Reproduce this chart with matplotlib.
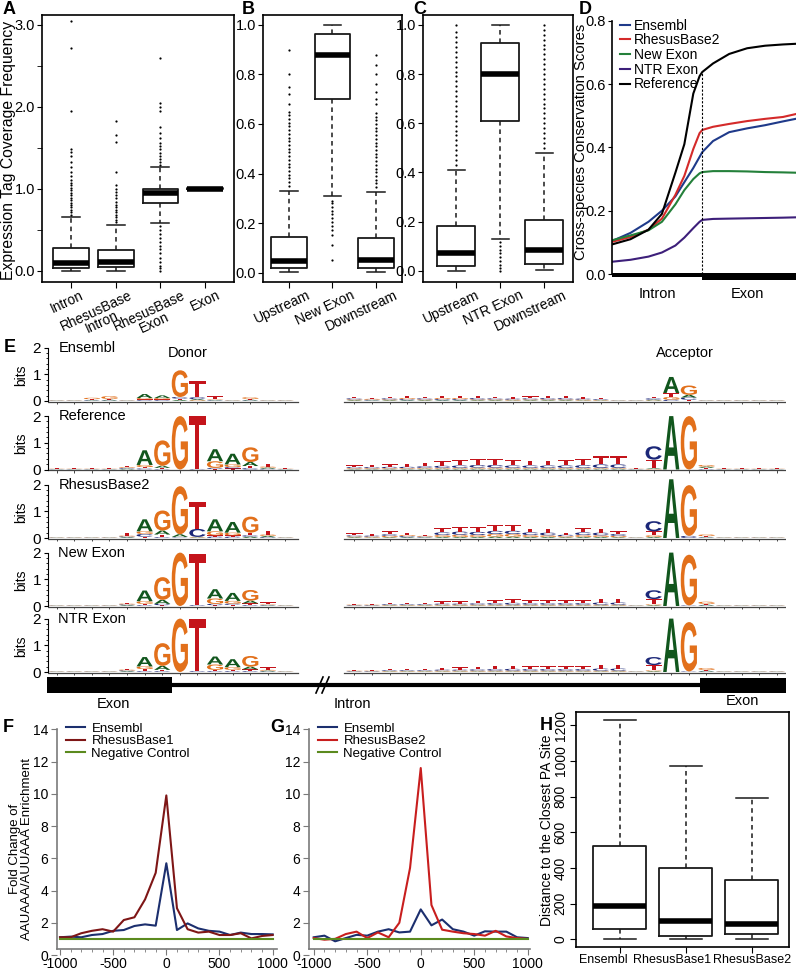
import numpy as np
import matplotlib
matplotlib.use("Agg")
import matplotlib.pyplot as plt
from matplotlib.textpath import TextPath
from matplotlib.patches import PathPatch, Rectangle, Polygon
from matplotlib.font_manager import FontProperties
from matplotlib.transforms import Affine2D, ScaledTranslation

plt.rcParams['font.family'] = ['Liberation Sans', 'DejaVu Sans']
plt.rcParams['axes.linewidth'] = 1.2

W, H = 800, 971

# ---------------- data ----------------
# panel A: (whislo, q1, med, q3, whishi)
a_names = ['Intron', 'RhesusBase\nIntron', 'RhesusBase\nExon', 'Exon']
a_q = [(0.0, 0.03, 0.09, 0.27, 0.65), (0.0, 0.04, 0.11, 0.25, 0.56),
       (0.58, 0.83, 0.95, 0.99, 1.26), (1.0, 0.99, 1.0, 1.01, 1.0)]
a_fl = [[0.68, 0.71, 0.74, 0.77, 0.8, 0.83, 0.86, 0.89, 0.92, 0.95, 0.98, 1.01, 1.04, 1.07, 1.1,
         1.15, 1.2, 1.26, 1.33, 1.4, 1.45, 1.48, 1.95, 2.72, 3.05],
        [0.59, 0.62, 0.65, 0.68, 0.71, 0.74, 0.77, 0.8, 0.84, 0.88, 0.92, 0.96, 1.0, 1.05, 1.2, 1.57, 1.65, 1.83],
        [1.29, 1.32, 1.36, 1.4, 1.44, 1.48, 1.52, 1.56, 1.62, 1.68, 1.75, 1.95, 2.0, 2.05, 2.6,
         0.0, 0.03, 0.06, 0.1, 0.15, 0.22, 0.26, 0.3, 0.35, 0.4, 0.45, 0.5, 0.54],
        []]

b_names = ['Upstream', 'New Exon', 'Downstream']
b_q = [(0.004, 0.018, 0.048, 0.143, 0.33), (0.31, 0.70, 0.879, 0.962, 1.0), (0.004, 0.018, 0.05, 0.14, 0.325)]
b_fl = [[0.35, 0.365, 0.38, 0.395, 0.41, 0.425, 0.44, 0.455, 0.47, 0.485, 0.5, 0.515, 0.53, 0.545, 0.56,
         0.575, 0.59, 0.605, 0.62, 0.635, 0.65, 0.68, 0.72, 0.75, 0.8, 0.9],
        [0.29, 0.28, 0.265, 0.25, 0.235, 0.22, 0.205, 0.19, 0.17, 0.15, 0.11, 0.05],
        [0.345, 0.36, 0.375, 0.39, 0.405, 0.42, 0.435, 0.45, 0.465, 0.48, 0.495, 0.51, 0.525, 0.54, 0.555,
         0.57, 0.585, 0.6, 0.615, 0.63, 0.645, 0.68, 0.7, 0.73, 0.76, 0.8, 0.84, 0.88]]

c_names = ['Upstream', 'NTR Exon', 'Downstream']
c_q = [(0.0, 0.02, 0.07, 0.18, 0.41), (0.13, 0.61, 0.80, 0.925, 1.0), (0.003, 0.026, 0.084, 0.206, 0.48)]
c_fl = [[0.43, 0.45, 0.47, 0.49, 0.51, 0.53, 0.55, 0.57, 0.59, 0.61, 0.63, 0.65, 0.67, 0.69, 0.71, 0.73,
         0.75, 0.77, 0.79, 0.81, 0.83, 0.85, 0.87, 0.89, 0.91, 0.93, 0.95, 0.97, 1.0],
        [0.115, 0.1, 0.085, 0.07, 0.055, 0.04, 0.025, 0.01, 0.0],
        [0.5, 0.52, 0.54, 0.56, 0.58, 0.6, 0.62, 0.64, 0.66, 0.68, 0.7, 0.72, 0.74, 0.76, 0.78, 0.8,
         0.82, 0.84, 0.86, 0.88, 0.9, 0.92, 0.94, 0.96, 0.98, 1.0]]

# panel D: conservation profiles (intron < 0 < exon)
d_x = [-100, -80, -60, -45, -30, -20, -10, -3, 0, 12, 30, 50, 70, 90, 104]
d_ens = [0.105, 0.13, 0.165, 0.2, 0.245, 0.29, 0.335, 0.37, 0.385, 0.42, 0.448, 0.46, 0.47, 0.482, 0.49]
d_rb2 = [0.102, 0.117, 0.14, 0.175, 0.25, 0.31, 0.395, 0.445, 0.455, 0.465, 0.474, 0.483, 0.49, 0.496, 0.505]
d_new = [0.107, 0.122, 0.138, 0.165, 0.22, 0.265, 0.3, 0.318, 0.322, 0.325, 0.325, 0.324, 0.322, 0.321, 0.32]
d_ntr = [0.039, 0.045, 0.055, 0.068, 0.09, 0.115, 0.145, 0.165, 0.171, 0.174, 0.175, 0.176, 0.177, 0.178, 0.179]
d_ref = [0.094, 0.11, 0.14, 0.19, 0.32, 0.41, 0.57, 0.625, 0.638, 0.665, 0.695, 0.713, 0.721, 0.725, 0.727]
d_names = ['Ensembl', 'RhesusBase2', 'New Exon', 'NTR Exon', 'Reference']
d_colors = ['#1f3a8a', '#d42a2a', '#24803a', '#3d1f7a', '#000000']

# panel E: sequence logos, per position (A, C, G, T) in bits
t0 = (0.01, 0.01, 0.01, 0.01)
e_rows = ['Ensembl', 'Reference', 'RhesusBase2', 'New Exon', 'NTR Exon']
e_left = {
    'Ensembl': [t0, t0, (0.02, 0.02, 0.05, 0.03), (0.03, 0.02, 0.1, 0.03), t0, (0.15, 0.03, 0.05, 0.03),
                (0.1, 0.03, 0.05, 0.03), (0.04, 0.06, 1.0, 0.05), (0.04, 0.07, 0.03, 0.6),
                (0.02, 0.02, 0.02, 0.12), t0, (0.03, 0.02, 0.06, 0.03), t0, t0],
    'Reference': [t0, t0, t0, t0, (0.03, 0.03, 0.03, 0.03), (0.55, 0.04, 0.08, 0.05), (0.08, 0.02, 0.95, 0.04),
                  (0.0, 0.0, 2.0, 0.0), (0.0, 0.02, 0.0, 1.98), (0.45, 0.04, 0.25, 0.02),
                  (0.4, 0.05, 0.1, 0.04), (0.15, 0.05, 0.55, 0.08), (0.04, 0.03, 0.04, 0.1), t0],
    'RhesusBase2': [t0, t0, t0, t0, (0.03, 0.03, 0.03, 0.1), (0.45, 0.1, 0.1, 0.05), (0.15, 0.03, 0.75, 0.1),
                    (0.1, 0.02, 1.8, 0.02), (0.02, 0.3, 0.02, 1.0), (0.45, 0.05, 0.15, 0.05),
                    (0.4, 0.05, 0.1, 0.05), (0.05, 0.05, 0.6, 0.1), (0.05, 0.03, 0.05, 0.15), t0],
    'New Exon': [t0, t0, t0, t0, (0.03, 0.03, 0.03, 0.03), (0.4, 0.03, 0.1, 0.05), (0.15, 0.05, 0.85, 0.03),
                 (0.0, 0.0, 2.0, 0.0), (0.0, 0.03, 0.0, 1.9), (0.35, 0.05, 0.2, 0.03),
                 (0.3, 0.05, 0.1, 0.04), (0.1, 0.03, 0.4, 0.07), (0.02, 0.02, 0.02, 0.08), t0],
    'NTR Exon': [t0, t0, t0, t0, (0.03, 0.03, 0.03, 0.03), (0.35, 0.03, 0.1, 0.08), (0.15, 0.03, 0.85, 0.05),
                 (0.0, 0.0, 2.0, 0.0), (0.0, 0.03, 0.0, 1.95), (0.3, 0.03, 0.2, 0.05),
                 (0.3, 0.03, 0.1, 0.05), (0.1, 0.03, 0.4, 0.07), (0.03, 0.02, 0.03, 0.1), t0],
}
e_right = {
    'Ensembl': [(0.03, 0.04, 0.03, 0.05), (0.02, 0.03, 0.03, 0.04), (0.03, 0.04, 0.03, 0.06), (0.03, 0.04, 0.04, 0.07),
                (0.03, 0.04, 0.03, 0.05), (0.03, 0.04, 0.04, 0.08), (0.03, 0.04, 0.04, 0.07), (0.03, 0.05, 0.03, 0.08),
                (0.03, 0.04, 0.03, 0.05), (0.02, 0.04, 0.03, 0.05), (0.03, 0.04, 0.03, 0.07), (0.03, 0.05, 0.03, 0.08),
                (0.03, 0.05, 0.03, 0.08), (0.02, 0.04, 0.03, 0.05), (0.02, 0.03, 0.02, 0.04), t0, t0,
                (0.03, 0.05, 0.02, 0.06), (0.6, 0.05, 0.1, 0.15), (0.1, 0.08, 0.35, 0.05), t0, t0, t0, t0, t0],
    'Reference': [(0.02, 0.04, 0.03, 0.06), (0.02, 0.04, 0.03, 0.08), (0.02, 0.05, 0.03, 0.1), (0.02, 0.05, 0.03, 0.12),
                  (0.03, 0.06, 0.03, 0.13), (0.03, 0.08, 0.03, 0.16), (0.03, 0.09, 0.03, 0.2), (0.03, 0.1, 0.04, 0.23),
                  (0.03, 0.1, 0.04, 0.23), (0.03, 0.09, 0.03, 0.2), (0.03, 0.09, 0.03, 0.18), (0.03, 0.09, 0.03, 0.18),
                  (0.03, 0.09, 0.03, 0.2), (0.03, 0.1, 0.03, 0.24), (0.03, 0.13, 0.03, 0.3), (0.03, 0.13, 0.03, 0.3),
                  t0, (0.03, 0.5, 0.02, 0.32), (2.0, 0.0, 0.0, 0.0), (0.0, 0.0, 2.0, 0.0),
                  (0.05, 0.02, 0.06, 0.04), t0, t0, t0, t0],
    'RhesusBase2': [(0.03, 0.04, 0.03, 0.07), (0.02, 0.04, 0.03, 0.06), (0.03, 0.06, 0.05, 0.11), (0.03, 0.04, 0.04, 0.08),
                    (0.02, 0.03, 0.03, 0.05), (0.04, 0.1, 0.07, 0.16), (0.04, 0.12, 0.08, 0.18), (0.04, 0.12, 0.07, 0.17),
                    (0.05, 0.12, 0.1, 0.2), (0.05, 0.12, 0.1, 0.2), (0.04, 0.1, 0.07, 0.14), (0.04, 0.1, 0.06, 0.15),
                    (0.03, 0.05, 0.04, 0.07), (0.04, 0.1, 0.07, 0.16), (0.04, 0.1, 0.06, 0.15), (0.03, 0.07, 0.05, 0.1),
                    t0, (0.04, 0.38, 0.06, 0.15), (2.2, 0.0, 0.0, 0.0), (0.0, 0.08, 1.9, 0.0),
                    (0.02, 0.02, 0.06, 0.03), t0, t0, t0, t0],
    'New Exon': [(0.01, 0.02, 0.02, 0.03), (0.01, 0.02, 0.02, 0.04), (0.02, 0.03, 0.02, 0.05), (0.02, 0.03, 0.02, 0.05),
                 (0.02, 0.03, 0.02, 0.06), (0.02, 0.04, 0.03, 0.08), (0.02, 0.04, 0.03, 0.09), (0.02, 0.05, 0.03, 0.1),
                 (0.02, 0.06, 0.03, 0.11), (0.02, 0.07, 0.03, 0.13), (0.02, 0.06, 0.03, 0.11), (0.02, 0.06, 0.03, 0.1),
                 (0.02, 0.06, 0.03, 0.11), (0.02, 0.06, 0.03, 0.1), (0.02, 0.08, 0.03, 0.14), (0.02, 0.08, 0.03, 0.15),
                 t0, (0.03, 0.33, 0.03, 0.2), (2.0, 0.0, 0.0, 0.0), (0.0, 0.02, 1.9, 0.0),
                 (0.03, 0.02, 0.08, 0.03), t0, t0, t0, t0],
    'NTR Exon': [(0.01, 0.02, 0.02, 0.03), (0.01, 0.02, 0.02, 0.03), (0.02, 0.03, 0.02, 0.04), (0.02, 0.03, 0.02, 0.05),
                 (0.02, 0.03, 0.02, 0.06), (0.02, 0.04, 0.03, 0.07), (0.02, 0.04, 0.03, 0.09), (0.02, 0.05, 0.03, 0.1),
                 (0.02, 0.06, 0.03, 0.12), (0.02, 0.07, 0.03, 0.12), (0.02, 0.06, 0.03, 0.1), (0.02, 0.06, 0.03, 0.1),
                 (0.02, 0.06, 0.03, 0.1), (0.02, 0.06, 0.03, 0.11), (0.02, 0.08, 0.03, 0.14), (0.02, 0.08, 0.03, 0.14),
                 t0, (0.03, 0.3, 0.03, 0.2), (2.0, 0.0, 0.0, 0.0), (0.0, 0.02, 1.85, 0.0),
                 (0.03, 0.02, 0.07, 0.03), t0, t0, t0, t0],
}

# panels F, G: AAUAAA/AUUAAA enrichment
fg_x = [-1000, -900, -800, -700, -600, -500, -400, -300, -200, -100, 0,
        100, 200, 300, 400, 500, 600, 700, 800, 900, 1000]
f_ens = [1.1, 1.14, 1.1, 1.24, 1.3, 1.5, 1.55, 1.8, 1.9, 1.82, 5.69, 1.55, 1.96, 1.65, 1.5, 1.45, 1.24, 1.39, 1.3, 1.3, 1.28]
f_rb1 = [1.1, 1.1, 1.35, 1.5, 1.6, 1.45, 2.17, 2.34, 3.45, 5.1, 9.9, 2.9, 1.6, 1.39, 1.45, 1.24, 1.24, 1.35, 1.03, 1.18, 1.24]
f_neg = [1.0, 1.0, 1.0, 1.0, 1.0, 1.0, 1.0, 1.0, 1.0, 1.0, 1.0, 1.0, 1.0, 1.0, 1.0, 1.0, 1.0, 1.0, 1.0, 1.0, 1.0]
g_ens = [1.1, 1.2, 0.85, 1.05, 1.25, 1.2, 1.45, 1.6, 1.4, 1.45, 2.83, 1.84, 2.2, 1.6, 1.45, 1.2, 1.47, 1.45, 1.45, 1.1, 1.05]
g_rb2 = [1.05, 0.95, 1.0, 1.3, 1.45, 1.05, 1.4, 1.1, 2.0, 5.4, 11.6, 3.1, 1.57, 1.45, 1.35, 1.3, 1.2, 1.5, 1.15, 1.05, 1.0]
g_neg = [1.0, 1.0, 1.0, 1.0, 1.0, 1.0, 1.0, 1.0, 1.0, 1.0, 1.0, 1.0, 1.0, 1.0, 1.0, 1.0, 1.0, 1.0, 1.0, 1.0, 1.0]

# panel H: distance to closest PA site
h_names = ['Ensembl', 'RhesusBase1', 'RhesusBase2']
h_q = [(0, 56, 187, 524, 1230), (0, 22, 104, 401, 972), (0, 28, 86, 332, 791)]

# ---------------- helpers ----------------
fig = plt.figure(figsize=(W / 100, H / 100), dpi=100)


def px_axes(l, t, r, b):
    return fig.add_axes([l / W, 1 - b / H, (r - l) / W, (b - t) / H])


def stat(q, fl=()):
    lo, q1, med, q3, hi = q
    return dict(whislo=lo, q1=q1, med=med, q3=q3, whishi=hi, fliers=list(fl))


def r_boxes(ax, stats, width=0.82, capw=0.4, ms=1.6):
    ax.bxp(stats, positions=range(1, len(stats) + 1), widths=width, capwidths=capw,
           manage_ticks=False,
           boxprops=dict(color='#1a1a1a', lw=1.3),
           medianprops=dict(color='black', lw=4, solid_capstyle='butt'),
           whiskerprops=dict(color='#1a1a1a', lw=1.1, linestyle=(0, (3, 2.5))),
           capprops=dict(color='#1a1a1a', lw=1.1),
           flierprops=dict(marker='o', ms=ms, mfc='black', mec='none', ls='none'))


def cat_labels(ax, names, dxs, fs=10):
    # rotated labels, right end shifted a little to the right of each tick
    ax.set_xticks(range(1, len(names) + 1))
    ax.set_xticklabels([])
    ax.tick_params(axis='x', direction='out', length=4)
    for i, (n, dx) in enumerate(zip(names, dxs), 1):
        tr = ax.get_xaxis_transform() + ScaledTranslation(dx / 100, -6 / 100, fig.dpi_scale_trans)
        ax.text(i, 0, n, transform=tr, rotation=25, ha='right', va='top', rotation_mode='anchor',
                ma='center', fontsize=fs, linespacing=0.9)


LOGO_FP = FontProperties(family='Liberation Sans', weight='bold')
LOGO_COL = {'A': '#11561d', 'C': '#1b2778', 'G': '#e2701b', 'T': '#c4141b'}
GLYPH = {ch: TextPath((0, 0), ch, size=1, prop=LOGO_FP) for ch in 'ACGT'}


def letter(ax, ch, x, y, w, h):
    tp = GLYPH[ch]
    bb = tp.get_extents()
    tr = Affine2D().translate(-bb.x0, -bb.y0).scale(w / bb.width, h / bb.height).translate(x - w / 2, y)
    ax.add_patch(PathPatch(tr.transform_path(tp), fc=LOGO_COL[ch], ec='none', lw=0, clip_on=False))


def stack(ax, x, heights, w=0.92):
    y = 0.0
    for h, ch in sorted(zip(heights, 'ACGT')):
        if h > 0:
            letter(ax, ch, x, y, w, h)
            y += h


# ---------------- A, B, C ----------------
axA = px_axes(41.7, 15, 234, 282)
r_boxes(axA, [stat(q, f) for q, f in zip(a_q, a_fl)], width=0.8)
axA.set_xlim(0.34, 4.65)
axA.set_ylim(-0.14, 3.12)
axA.set_yticks([0, 1, 2, 3])
axA.set_yticklabels(['0.0', '1.0', '2.0', '3.0'], fontsize=10.5)
axA.set_yticks([0.5, 1.5, 2.5], minor=True)
axA.tick_params(axis='y', which='both', direction='out', length=3.5, pad=1.5)
cat_labels(axA, a_names, [9, 13, 21, 12], fs=9.8)

axB = px_axes(262.7, 15, 402, 282)
r_boxes(axB, [stat(q, f) for q, f in zip(b_q, b_fl)])
axB.set_xlim(0.395, 3.6)
axB.set_ylim(-0.038, 1.04)
axB.set_yticks([0, 0.2, 0.4, 0.6, 0.8, 1.0])
axB.set_yticklabels(['0.0', '0.2', '0.4', '0.6', '0.8', '1.0'], fontsize=10.5)
axB.tick_params(axis='y', direction='out', length=3.5, pad=1.5)
cat_labels(axB, b_names, [18, 18, 18])

axC = px_axes(422.7, 15, 573, 282)
r_boxes(axC, [stat(q, f) for q, f in zip(c_q, c_fl)], width=0.86)
axC.set_xlim(0.236, 3.65)
axC.set_ylim(-0.046, 1.04)
axC.set_yticks([0, 0.2, 0.4, 0.6, 0.8, 1.0])
axC.set_yticklabels(['0.0', '0.2', '0.4', '0.6', '0.8', '1.0'], fontsize=10.5)
axC.tick_params(axis='y', direction='out', length=3.5, pad=1.5)
cat_labels(axC, c_names, [19, 19, 19])

# ---------------- D ----------------
axD = px_axes(611.7, 20.7, 796, 281)
for ys, name, col in zip([d_ens, d_rb2, d_new, d_ntr, d_ref], d_names, d_colors):
    axD.plot(d_x, ys, color=col, lw=1.5, label=name)
axD.plot([0, 0], [0, d_ref[d_x.index(0)]], color='black', lw=0.8, ls=(0, (2, 1.5)))
axD.fill_between([-101, 0], -0.008, 0.004, color='black', lw=0)
axD.fill_between([0, 104.5], -0.02, 0.004, color='black', lw=0)
axD.set_xlim(-101, 104.5)
axD.set_ylim(-0.022, 0.8)
for s in ['top', 'right', 'bottom']:
    axD.spines[s].set_visible(False)
axD.spines['left'].set_bounds(0, 0.8)
axD.set_xticks([])
axD.set_yticks([0, 0.2, 0.4, 0.6, 0.8])
axD.set_yticklabels(['0.0', '0.2', '0.4', '0.6', '0.8'], fontsize=10.5)
axD.tick_params(axis='y', direction='out', length=3, pad=1)
axD.legend(loc='upper left', bbox_to_anchor=(0.0, 1.04), frameon=False, fontsize=10,
           handlelength=0.7, handletextpad=0.3, labelspacing=0.05, borderaxespad=0.2)
axD.text(-50, -0.04, 'Intron', ha='center', va='top', fontsize=10.5)
axD.text(50, -0.04, 'Exon', ha='center', va='top', fontsize=10.5)

# ---------------- E ----------------
BIT = 26.7
base_px = [401, 469.5, 538, 606, 672]
RIGHT0 = 16.92
for name, y0 in zip(e_rows, base_px):
    ax = px_axes(48, y0 - 2.15 * BIT, 786, y0 + 0.2 * BIT)
    ax.set_xlim(-0.49, 41.44)
    ax.set_ylim(-0.2, 2.15)
    for s in ['top', 'right', 'bottom']:
        ax.spines[s].set_visible(False)
    ax.spines['left'].set_bounds(0, 2)
    ax.spines['left'].set_linewidth(0.8)
    ax.set_xticks([])
    ax.set_yticks([0, 1, 2])
    ax.set_yticklabels(['0', '1', '2'], fontsize=11)
    ax.set_yticks([0.2, 0.4, 0.6, 0.8, 1.2, 1.4, 1.6, 1.8], minor=True)
    ax.tick_params(axis='y', which='major', direction='out', length=3, pad=2)
    ax.tick_params(axis='y', which='minor', direction='out', length=1.5)
    ax.set_ylabel('bits', fontsize=10, labelpad=3)
    left = e_left[name]
    right = e_right[name]
    for k, hts in enumerate(left):
        stack(ax, k, hts)
    for k, hts in enumerate(right):
        stack(ax, RIGHT0 + k, hts)
    ax.plot([-0.49, len(left) - 0.3], [-0.03, -0.03], color='#444', lw=0.9)
    ax.plot([RIGHT0 - 0.6, RIGHT0 + len(right) - 0.4], [-0.03, -0.03], color='#444', lw=0.9)
    ax.vlines(range(len(left)), -0.12, -0.03, color='#444', lw=0.7)
    ax.vlines([RIGHT0 + k for k in range(len(right))], -0.12, -0.03, color='#444', lw=0.7)
    ax.text(0.1, 2.0, name, ha='left', va='center', fontsize=10.5)

# ---------------- F, G ----------------
def enrich_axes(ax, xlim):
    ax.set_xlim(*xlim)
    ax.set_ylim(0, 14.3)
    for s in ['top', 'right']:
        ax.spines[s].set_visible(False)
    for s in ['left', 'bottom']:
        ax.spines[s].set_color('#7a7a7a')
    ax.spines['bottom'].set_position(('data', 0.4))
    ax.spines['left'].set_bounds(0.4, 14)
    ax.set_xticks([-1000, -500, 0, 500, 1000])
    ax.set_xticklabels(['-1000', '-500', '0', '500', '1000'], fontsize=10)
    ax.set_xticks(fg_x, minor=True)
    ax.set_yticks([0, 2, 4, 6, 8, 10, 12, 14])
    ax.set_yticklabels(['0', '2', '4', '6', '8', '10', '12', '14'], fontsize=10)
    ax.tick_params(which='both', direction='out', color='#7a7a7a', length=4, pad=2)
    ax.tick_params(which='minor', length=2.5)


axF = px_axes(56.7, 724.5, 276.7, 955)
axF.plot(fg_x, f_ens, color='#1c2f6e', lw=1.5, label='Ensembl')
axF.plot(fg_x, f_rb1, color='#7e1616', lw=1.5, label='RhesusBase1')
axF.plot(fg_x, f_neg, color='#5b8a1e', lw=1.5, label='Negative Control')
enrich_axes(axF, (-1031, 1038))
axF.legend(loc='upper left', bbox_to_anchor=(0.02, 1.03), frameon=False, fontsize=9.5,
           handlelength=1.4, handletextpad=0.5, labelspacing=0.0, borderaxespad=0.0)

axG = px_axes(308.7, 724.5, 530, 955)
axG.plot(fg_x, g_ens, color='#1c2f6e', lw=1.5, label='Ensembl')
axG.plot(fg_x, g_rb2, color='#c81e1e', lw=1.5, label='RhesusBase2')
axG.plot(fg_x, g_neg, color='#5b8a1e', lw=1.5, label='Negative Control')
enrich_axes(axG, (-1047, 1021))
axG.legend(loc='upper left', bbox_to_anchor=(0.02, 1.03), frameon=False, fontsize=9.5,
           handlelength=1.4, handletextpad=0.5, labelspacing=0.0, borderaxespad=0.0)

# ---------------- H ----------------
axH = px_axes(576, 711.7, 789.3, 947.3)
r_boxes(axH, [stat(q) for q in h_q], width=0.8, capw=0.48)
axH.set_xlim(0.338, 3.57)
axH.set_ylim(-44, 1275)
axH.set_xticks([1, 2, 3])
axH.set_xticklabels([])
for i, (n, dx) in enumerate(zip(h_names, [-16, -14, 0]), 1):
    tr = axH.get_xaxis_transform() + ScaledTranslation(dx / 100, -7 / 100, fig.dpi_scale_trans)
    axH.text(i, 0, n, transform=tr, ha='center', va='top', fontsize=9)
axH.set_yticks([0, 200, 400, 600, 800, 1000, 1200])
axH.set_yticklabels(['0', '200', '400', '600', '800', '1000', '1200'], fontsize=10, rotation=90, va='center')
axH.tick_params(direction='out', length=4, pad=2)

# ---------------- overlay: labels, gene model ----------------
ov = fig.add_axes([0, 0, 1, 1], zorder=10)
ov.set_xlim(0, W)
ov.set_ylim(H, 0)
ov.axis('off')
ov.patch.set_alpha(0)
for lab, (x, y) in zip('ABCDEFGH', [(9, 10), (248, 9), (420, 9), (585, 10), (10, 347),
                                    (8, 727), (277, 727), (546, 726)]):
    ov.text(x, y, lab, ha='center', va='center', fontsize=13, fontweight='bold')
# axis titles placed in pixel positions
ov.text(9, 150, 'Expression Tag Coverage Frequency', rotation=90, ha='center', va='center', fontsize=11.3)
ov.text(581, 142, 'Cross-species Conservation Scores', rotation=90, ha='center', va='center', fontsize=10.7)
ov.text(21, 849, 'Fold Change of\nAAUAAA/AUUAAA Enrichment', rotation=90, ha='center', va='center',
        fontsize=9.5, linespacing=0.9)
ov.text(547, 830, 'Distance to the Closest PA Site', rotation=90, ha='center', va='center', fontsize=10)
ov.text(188, 353, 'Donor', ha='center', va='center', fontsize=10.5)
ov.text(685, 353, 'Acceptor', ha='center', va='center', fontsize=10.5)
# gene model under panel E
ov.add_patch(Rectangle((47, 677), 125, 16, color='black', lw=0))
ov.add_patch(Rectangle((700, 678), 86, 15, color='black', lw=0))
ov.plot([172, 700], [685, 685], color='black', lw=3, solid_capstyle='butt')
ov.add_patch(Polygon([(317, 692), (323, 678), (329, 678), (323, 692)], color='white', lw=0))
ov.plot([316, 323], [693, 677], color='black', lw=1.2)
ov.plot([322, 329], [693, 677], color='black', lw=1.2)
ov.text(113, 704, 'Exon', ha='center', va='center', fontsize=10.5)
ov.text(352, 704, 'Intron', ha='center', va='center', fontsize=10.5)
ov.text(742, 701, 'Exon', ha='center', va='center', fontsize=10.5)

fig.savefig('out.png', dpi=100)
